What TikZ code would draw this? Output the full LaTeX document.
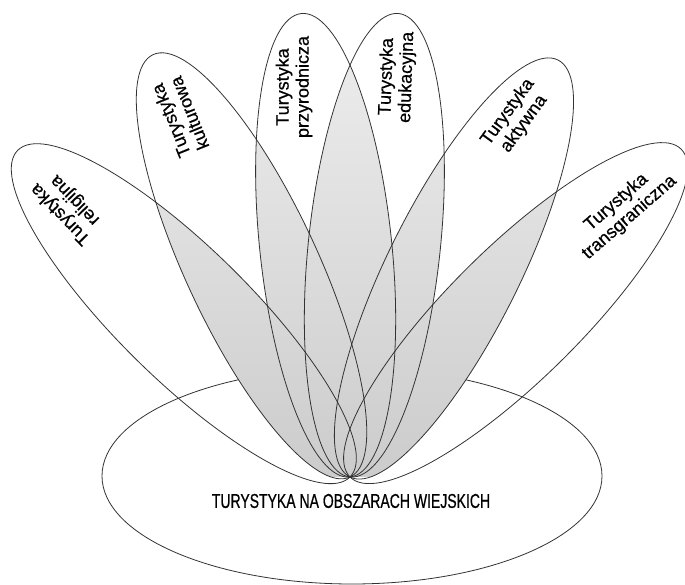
\documentclass[tikz,border=0pt]{standalone}
\usepackage{fontspec}
\setmainfont{Liberation Sans}[FakeBold=0.6]
\newfontfamily\narrowsans{Liberation Sans}[FakeStretch=0.7, FakeBold=0.6]
\tikzset{
    leaf/.style={draw=black!80, line width=0.8pt},
    leaf text/.style={align=center, inner sep=0pt, font=\fontsize{18}{20}\selectfont},
    overlap/.style={top color=gray!12, bottom color=gray!40}
    }
\def\leafA{233}
\def\leafB{66}

\begin{document}
\begin{tikzpicture}[x=1pt,y=1pt]
	\useasboundingbox (0,0) rectangle (685,585);
	\coordinate (P) at (350,108);

	\draw[leaf] (352,109) ellipse [x radius=250, y radius=108];

	% grey where two leaves overlap
	\foreach \a [count=\i] in {135.5,115,96,84,63.5,44.7}
	\foreach \b [count=\j] in {135.5,115,96,84,63.5,44.7} {
		\ifnum\j>\i
		\begin{scope}
			\clip[shift={(P)}, rotate=\a] (\leafA,0) ellipse [x radius=\leafA, y radius=\leafB];
			\clip[shift={(P)}, rotate=\b] (\leafA,0) ellipse [x radius=\leafA, y radius=\leafB];
			\shade[overlap] (0,108) rectangle (685,585);
		\end{scope}
		\fi
	}
	\foreach \a in {135.5,115,96,84,63.5,44.7}
		\draw[leaf, shift={(P)}, rotate=\a] (\leafA,0) ellipse [x radius=\leafA, y radius=\leafB];

	\node[leaf text, rotate=134] (rel) at (68,378) {Turystyka\\religijna};
	\node[leaf text, rotate=112] (kult) at (180,468) {Turystyka\\kulturowa};
	\node[leaf text, rotate=90] (przyr) at (294,498) {Turystyka\\przyrodnicza};
	\node[leaf text, rotate=88] (eduk) at (397,508) {Turystyka\\edukacyjna};
	\node[leaf text, rotate=54] (akt) at (516,467) {Turystyka\\aktywna};
	\node[leaf text, rotate=41] (trans) at (623,375) {Turystyka\\transgraniczna};

	\node[font=\narrowsans\fontsize{20}{22}\selectfont] (main) at (351,84) {TURYSTYKA NA OBSZARACH WIEJSKICH};
\end{tikzpicture}
\end{document}
